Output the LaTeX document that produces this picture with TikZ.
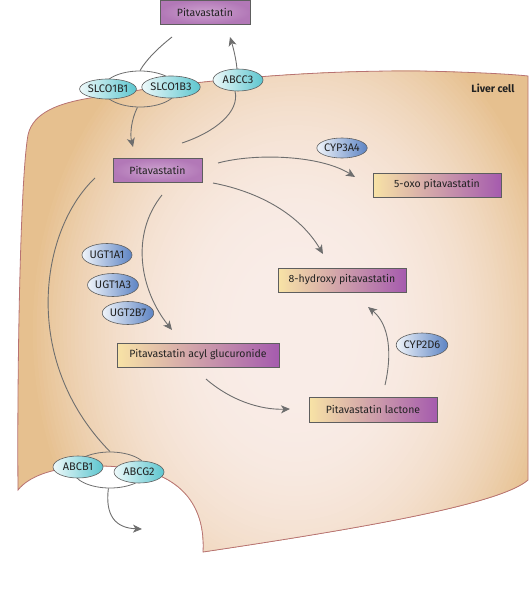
\documentclass[tikz,border=0pt]{standalone}
\usepackage{fontspec}
\setmainfont{Fira Sans}
\usetikzlibrary{shapes.geometric,arrows.meta}
\definecolor{cellin}{HTML}{F9ECE7}
\definecolor{cellout}{HTML}{E6C08F}
\definecolor{cellline}{HTML}{B77272}
\definecolor{pitain}{HTML}{CDA2CF}
\definecolor{pitaout}{HTML}{B278B7}
\definecolor{metY}{HTML}{F8E3A6}
\definecolor{metM}{HTML}{DDB2B0}
\definecolor{metP}{HTML}{A55BAE}
\definecolor{cyL}{HTML}{EEF9FA}
\definecolor{cyR}{HTML}{5CC6CF}
\definecolor{blL}{HTML}{F0F4F9}
\definecolor{blR}{HTML}{5D84C4}
\definecolor{linegray}{HTML}{6E6E6E}
\definecolor{boxborder}{HTML}{5E5E5E}
\definecolor{txt}{HTML}{222222}
\newcommand\boxfont{\fontsize{10.5}{12}\selectfont}
\newcommand\ellfont{\fontsize{11}{12}\selectfont}
\begin{document}
\begin{tikzpicture}[x=1pt,y=-1pt,
  conn/.style={draw=linegray, line width=0.9pt},
  arr/.style={conn, -{Stealth[length=9pt,width=8pt,inset=2.5pt]}},
  pbox/.style={draw=boxborder, line width=0.6pt, rectangle, inner sep=0pt, minimum height=24pt, inner color=pitain, outer color=pitaout, font=\boxfont, text=txt},
  mbox/.style={draw=boxborder, line width=0.6pt, rectangle, inner sep=0pt, minimum height=24pt, left color=metY, middle color=metM, right color=metP, font=\boxfont, text=txt},
  tcyan/.style={ellipse, draw=boxborder, line width=0.6pt, inner sep=0pt, minimum width=50pt, minimum height=22pt, left color=cyL, right color=cyR, font=\ellfont, text=txt},
  tblue/.style={ellipse, draw=boxborder, line width=0.6pt, inner sep=0pt, minimum width=50pt, minimum height=22pt, left color=blL, right color=blR, font=\ellfont, text=txt},
  ring/.style={ellipse, draw=linegray, line width=0.8pt, inner sep=0pt, minimum width=74pt, minimum height=36pt}
]
\useasboundingbox (0,0) rectangle (528,607);
% cell
\def\cellpath{(18,490) .. controls (17,380) and (20,180) .. (28,135)
  .. controls (33,112) and (60,103) .. (90,98)
  .. controls (180,82) and (300,70) .. (420,71)
  .. controls (470,72) and (510,74) .. (528,76)
  -- (528,480)
  .. controls (500,505) and (350,530) .. (203,552)
  .. controls (205,515) and (190,485) .. (150,472)
  .. controls (110,462) and (40,462) .. (18,490) -- cycle}
\fill[cellout] \cellpath;
\begin{scope}
  \clip \cellpath;
  \foreach \k in {0,...,70}{
    \pgfmathsetmacro\myt{1-\k/70}
    \pgfmathsetmacro\myu{max(0,min(1,(\myt-0.1)/0.9))}
    \pgfmathsetmacro\myp{100*\myu*\myu*sqrt(\myu)}
    \pgfmathsetmacro\myra{265*\myt+1}
    \pgfmathsetmacro\myrb{340*\myt+1}
    \fill[cellout!\myp!cellin] (295,330) ellipse (\myra pt and \myrb pt);
  }
\end{scope}
\draw[cellline, line width=0.8pt] \cellpath;
\node[font=\bfseries\boxfont, text=txt, anchor=east] (lbl) at (518,88) {Liver cell};
% rings
\node[ring] (ringT) at (140,89) {};
\node[ring] (ringB) at (110,470) {};
% boxes
\node[pbox, minimum width=90pt] (pitaTop) at (205,12) {Pitavastatin};
\node[pbox, minimum width=89pt] (pitaIn) at (157.5,170) {Pitavastatin};
\node[mbox, minimum width=128pt] (oxo) at (437,185) {5-oxo pitavastatin};
\node[mbox, minimum width=128pt] (hyd) at (342,280) {8-hydroxy pitavastatin};
\node[mbox, minimum width=162pt] (acyl) at (198,355) {Pitavastatin acyl glucuronide};
\node[mbox, minimum width=128pt, minimum height=25pt] (lac) at (373,409.5) {Pitavastatin lactone};
% free ends
\coordinate (c1) at (172,37);
\coordinate (c2) at (133,147);
\coordinate (c3) at (182,143);
\coordinate (c4) at (230,37);
\coordinate (c5) at (218,163);
\coordinate (c6) at (355,177);
\coordinate (c7) at (213,183);
\coordinate (c8) at (323,254);
\coordinate (c9) at (162,195);
\coordinate (c10) at (172,330);
\coordinate (c11) at (206,379);
\coordinate (c12) at (290,409);
\coordinate (c13) at (385,385);
\coordinate (c14) at (368,307);
\coordinate (c15) at (95,178);
\coordinate (c16) at (142,529);
% connectors
\draw[conn] (c1) .. controls (158,48) and (146,60) .. (ringT.north);
\draw[arr] (ringT.-98) .. controls (131,120) and (130,135) .. (c2);
\draw[conn] (c3) .. controls (215,132) and (240,112) .. (235,91);
\draw[arr] (237,69) .. controls (236,58) and (233,47) .. (c4);
\draw[arr] (c5) .. controls (255,153) and (320,155) .. (c6);
\draw[arr] (c7) .. controls (260,192) and (300,215) .. (c8);
\draw[arr] (c9) .. controls (130,235) and (140,290) .. (c10);
\draw[arr] (c11) .. controls (230,400) and (260,410) .. (c12);
\draw[arr] (c13) .. controls (392,355) and (390,325) .. (c14);
\draw[conn] (c15) .. controls (40,230) and (20,360) .. (ringB.north);
\draw[arr] (ringB.-95) .. controls (105,515) and (115,528) .. (c16);
% transporters / enzymes
\node[tcyan, minimum height=20pt] (slco1) at (108,89) {SLCO1B1};
\node[tcyan] (slco3) at (171,87) {SLCO1B3};
\node[tcyan] (abcc3) at (238,80) {ABCC3};
\node[tcyan] (abcb1) at (78,467) {ABCB1};
\node[tcyan] (abcg2) at (139,472) {ABCG2};
\node[tblue, minimum height=20pt] (cyp3a4) at (342,148) {CYP3A4};
\node[tblue, minimum height=24pt] (cyp2d6) at (422,345) {CYP2D6};
\node[tblue, minimum height=23pt] (ugt1) at (107,255) {UGT1A1};
\node[tblue, minimum height=23pt] (ugt3) at (113,285) {UGT1A3};
\node[tblue, minimum height=23pt] (ugt7) at (128,313) {UGT2B7};
\end{tikzpicture}
\end{document}
